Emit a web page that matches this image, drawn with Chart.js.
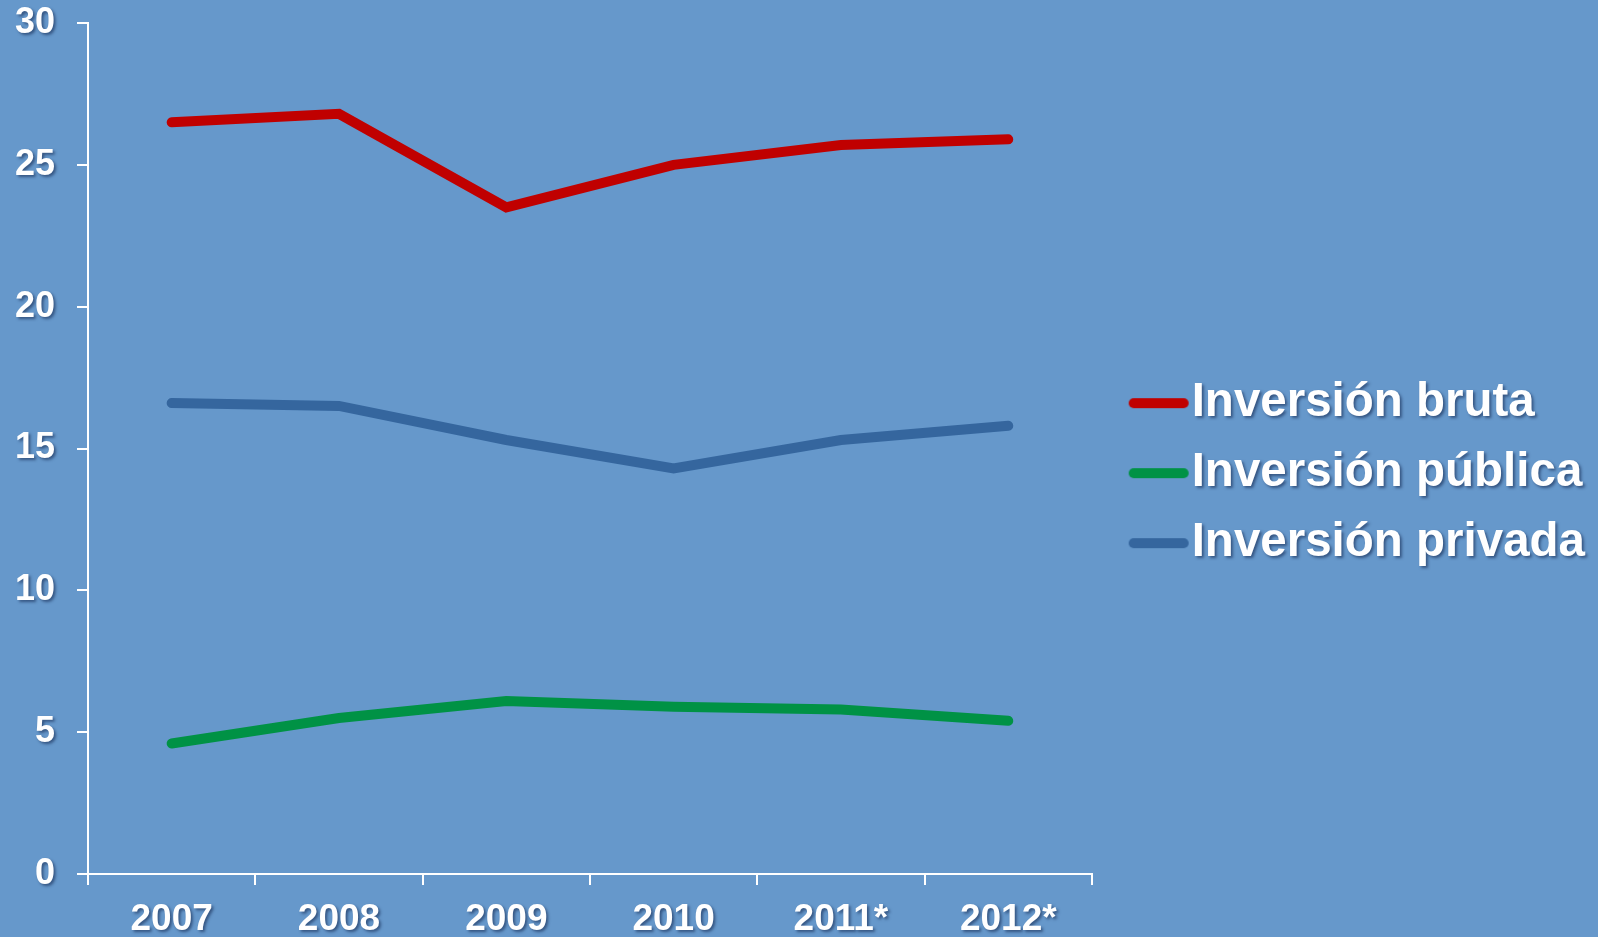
<!DOCTYPE html>
<html>
<head>
<meta charset="utf-8">
<script src="https://cdn.jsdelivr.net/npm/chart.js@4.4.1/dist/chart.umd.min.js"></script>
<style>
  html, body { margin: 0; padding: 0; overflow: hidden; background: #6698cb; }
  canvas { display: block; }
</style>
</head>
<body>
<canvas id="grafico" width="1598" height="942"></canvas>
<script>
const anos = ['2007', '2008', '2009', '2010', '2011*', '2012*'];
const inversionBruta = [26.5, 26.8, 23.5, 25.0, 25.7, 25.9];
const inversionPublica = [4.6, 5.5, 6.1, 5.9, 5.8, 5.4];
const inversionPrivada = [16.6, 16.5, 15.3, 14.3, 15.3, 15.8];

const rojo = '#c00000';
const verde = '#009245';
const azul = '#35669e';
const blanco = '#ffffff';
const fuente = '"Liberation Sans", Arial, sans-serif';

// muestra de la leyenda: trazo corto redondeado
function muestra(color) {
  const c = document.createElement('canvas');
  c.width = 62;
  c.height = 12;
  const g = c.getContext('2d');
  g.strokeStyle = color;
  g.lineWidth = 10;
  g.lineCap = 'round';
  g.beginPath();
  g.moveTo(6, 6);
  g.lineTo(56, 6);
  g.stroke();
  return c;
}

const canvas = document.getElementById('grafico');
const ctx = canvas.getContext('2d');

// sombra en los textos, como en la diapositiva original
const fillTextOriginal = ctx.fillText;
ctx.fillText = function (...args) {
  this.save();
  this.shadowColor = 'rgba(20, 40, 80, 0.6)';
  this.shadowBlur = 3;
  this.shadowOffsetX = 2;
  this.shadowOffsetY = 2;
  fillTextOriginal.apply(this, args);
  this.restore();
};

function serie(label, data, color) {
  return {
    label,
    data,
    borderColor: color,
    backgroundColor: color,
    borderWidth: 10,
    borderCapStyle: 'round',
    borderJoinStyle: 'miter',
    pointRadius: 0,
    pointHoverRadius: 0,
    pointStyle: muestra(color),
    tension: 0,
    fill: false,
  };
}

// sin relleno automático: el margen lo fija layout.padding
function sinRelleno(scale) {
  scale.paddingTop = 0;
  scale.paddingBottom = 0;
  scale.paddingLeft = 0;
  scale.paddingRight = 0;
}

new Chart(ctx, {
  type: 'line',
  data: {
    labels: anos,
    datasets: [
      serie('Inversión bruta', inversionBruta, rojo),
      serie('Inversión pública', inversionPublica, verde),
      serie('Inversión privada', inversionPrivada, azul),
    ]
  },
  options: {
    responsive: false,
    animation: false,
    layout: {
      autoPadding: false,
      padding: { left: 15, right: 3, top: 23, bottom: 0 }
    },
    plugins: {
      tooltip: { enabled: false },
      title: { display: false },
      legend: {
        position: 'right',
        align: 'start',
        maxWidth: 800,
        // título vacío: solo sirve para bajar las entradas
        title: { display: true, text: '', font: { size: 12 }, padding: { top: 319.5, bottom: 0 } },
        labels: {
          color: blanco,
          font: { family: fuente, size: 47.5, weight: 'bold' },
          usePointStyle: true,
          pointStyleWidth: 18.5,
          padding: 22.5,
        }
      }
    },
    scales: {
      x: {
        offset: true,
        grid: {
          offset: true,
          drawOnChartArea: false,
          color: blanco,
          lineWidth: 2,
          tickLength: 11,
        },
        border: { color: blanco, width: 2 },
        ticks: {
          color: blanco,
          padding: 13,
          maxRotation: 0,
          font: { family: fuente, size: 37, weight: 'bold' },
        },
        afterFit(scale) { scale.height = 68; sinRelleno(scale); }
      },
      y: {
        min: 0,
        max: 30,
        grid: {
          drawOnChartArea: false,
          color: blanco,
          lineWidth: 2,
          tickLength: 11,
        },
        border: { color: blanco, width: 2 },
        ticks: {
          stepSize: 5,
          color: blanco,
          padding: 22,
          font: { family: fuente, size: 36, weight: 'bold' },
        },
        afterFit(scale) { scale.width = 73; sinRelleno(scale); }
      },
      hueco: {
        position: 'right',
        display: true,
        grid: { display: false },
        border: { display: false },
        ticks: { display: false },
        afterFit(scale) { scale.width = 35; sinRelleno(scale); }
      }
    }
  }
});
</script>
</body>
</html>
